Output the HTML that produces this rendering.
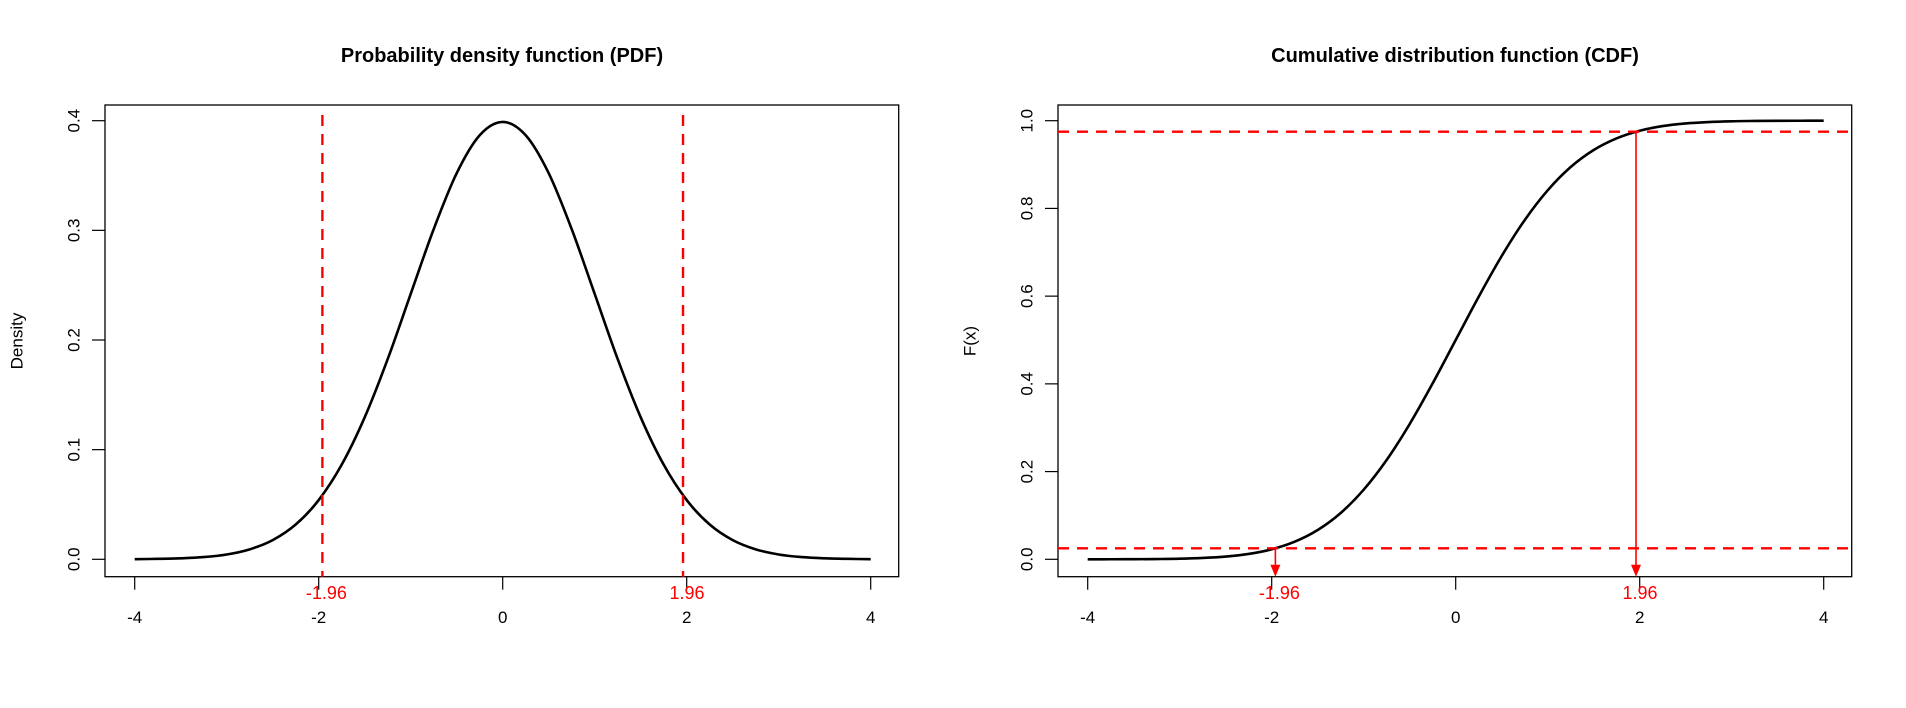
<!DOCTYPE html>
<html><head><meta charset="utf-8">
<style>
html,body{margin:0;padding:0;background:#fff;}
svg{display:block;}
text{font-family:"Liberation Sans",Arial,sans-serif;}
</style></head>
<body>
<svg id="chart" width="1906" height="708" viewBox="0 0 1906 708" xmlns="http://www.w3.org/2000/svg">
<g id="pdf"></g>
<g id="cdf"></g>
</svg>
<script>
var xs = [-4,-3.75,-3.5,-3.25,-3,-2.75,-2.5,-2.25,-2,-1.75,-1.5,-1.25,-1,-0.75,-0.5,-0.25,0,0.25,0.5,0.75,1,1.25,1.5,1.75,2,2.25,2.5,2.75,3,3.25,3.5,3.75,4];
var pdfVals = [0.0001,0.0004,0.0009,0.0020,0.0044,0.0091,0.0175,0.0317,0.0540,0.0863,0.1295,0.1826,0.2420,0.3011,0.3521,0.3867,0.3989,0.3867,0.3521,0.3011,0.2420,0.1826,0.1295,0.0863,0.0540,0.0317,0.0175,0.0091,0.0044,0.0020,0.0009,0.0004,0.0001];
var cdfVals = [0.0000,0.0001,0.0002,0.0006,0.0013,0.0030,0.0062,0.0122,0.0228,0.0401,0.0668,0.1056,0.1587,0.2266,0.3085,0.4013,0.5,0.5987,0.6915,0.7734,0.8413,0.8944,0.9332,0.9599,0.9772,0.9878,0.9938,0.9970,0.9987,0.9994,0.9998,0.9999,1.0];
var xTicks = [-4,-2,0,2,4];
var xTickLabels = ["-4","-2","0","2","4"];
var pdfYTicks = [0,0.1,0.2,0.3,0.4];
var pdfYLabels = ["0.0","0.1","0.2","0.3","0.4"];
var cdfYTicks = [0,0.2,0.4,0.6,0.8,1.0];
var cdfYLabels = ["0.0","0.2","0.4","0.6","0.8","1.0"];
var critX = [-1.96,1.96];
var critLabels = ["-1.96","1.96"];
var critP = [0.025,0.975];

var NS="http://www.w3.org/2000/svg";
function mk(parent,tag,attrs,txt){var e=document.createElementNS(NS,tag);for(var k in attrs)e.setAttribute(k,attrs[k]);if(txt!=null)e.textContent=txt;parent.appendChild(e);return e;}

function panel(g,off,yTicks,yLabels,ymax,title,ylab,vals,isCdf){
  var L=105+off,R=898.7+off,T=105,B=576.7;
  var x0=502.7+off,xk=92;
  var sx=function(v){return x0+v*xk;};
  var y0=559.3,yTop=120.7;
  var sy=function(v){return y0-(v/ymax)*(y0-yTop);};
  var t=mk(g,'text',{x:502+off,y:62,'text-anchor':'middle','font-size':20,'font-weight':'bold',fill:'#000'},title);
  
  
  var fr=mk(g,'rect',{x:L,y:T,width:R-L,height:B-T,fill:'none',stroke:'#000','stroke-width':1.3});
  
  
  var ya=mk(g,'g',{});
  
  
  for(var i=0;i<yTicks.length;i++){
    var yy=sy(yTicks[i]);
    mk(ya,'line',{x1:L-13,x2:L,y1:yy,y2:yy,stroke:'#000','stroke-width':1.2});
    var tl=mk(ya,'text',{x:0,y:0,transform:'translate('+(L-31)+','+yy+') rotate(-90)','text-anchor':'middle','dominant-baseline':'central','font-size':17,fill:'#000'},yLabels[i]);
    
    
  }
  var xa=mk(g,'g',{});
  
  
  for(var j=0;j<xTicks.length;j++){
    var xx=sx(xTicks[j]);
    mk(xa,'line',{x1:xx,x2:xx,y1:B,y2:B+13,stroke:'#000','stroke-width':1.2});
    var xl=mk(xa,'text',{x:xx,y:623,'text-anchor':'middle','font-size':17,fill:'#000'},xTickLabels[j]);
    
    
  }
  var yt=mk(g,'text',{x:0,y:0,transform:'translate('+(off+17)+',341) rotate(-90)','text-anchor':'middle','dominant-baseline':'central','font-size':17,fill:'#000'},ylab);
  
  
  var P=xs.map(function(x,i){return [sx(x),sy(vals[i])];});
  var d='M'+P[0][0]+','+P[0][1];
  for(var k=0;k<P.length-1;k++){
    var p0=P[k-1]||P[k],p1=P[k],p2=P[k+1],p3=P[k+2]||P[k+1];
    d+=' C'+(p1[0]+(p2[0]-p0[0])/6)+','+(p1[1]+(p2[1]-p0[1])/6)+' '+(p2[0]-(p3[0]-p1[0])/6)+','+(p2[1]-(p3[1]-p1[1])/6)+' '+p2[0]+','+p2[1];
  }
  var c=mk(g,'path',{d:d,fill:'none',stroke:'#000','stroke-width':2.6});
  
  
  for(var m=0;m<critX.length;m++){
    var cx=sx(critX[m]);
    if(!isCdf){
      var dl=mk(g,'line',{x1:cx,x2:cx,y1:T+10,y2:B,stroke:'#ff0000','stroke-width':2.4,'stroke-dasharray':'11,8'});
      
      
    } else {
      var hy=sy(critP[m]);
      var hl=mk(g,'line',{x1:L,x2:R,y1:hy,y2:hy,stroke:'#ff0000','stroke-width':2.4,'stroke-dasharray':'11,8'});
      
      
      var ar=mk(g,'line',{x1:cx,x2:cx,y1:hy,y2:B-8,stroke:'#ff0000','stroke-width':1.6});
      
      
      var ah=mk(g,'polygon',{points:(cx-5)+','+(B-12)+' '+(cx+5)+','+(B-12)+' '+cx+','+(B),fill:'#ff0000'});
      
      
    }
    var rl=mk(g,'text',{x:cx+4,y:599,'text-anchor':'middle','font-size':18,fill:'#ff0000'},critLabels[m]);
    
    
  }
}
panel(document.getElementById('pdf'),0,pdfYTicks,pdfYLabels,0.4,'Probability density function (PDF)','Density',pdfVals,false);
panel(document.getElementById('cdf'),953,cdfYTicks,cdfYLabels,1.0,'Cumulative distribution function (CDF)','F(x)',cdfVals,true);
</script>
</body></html>
